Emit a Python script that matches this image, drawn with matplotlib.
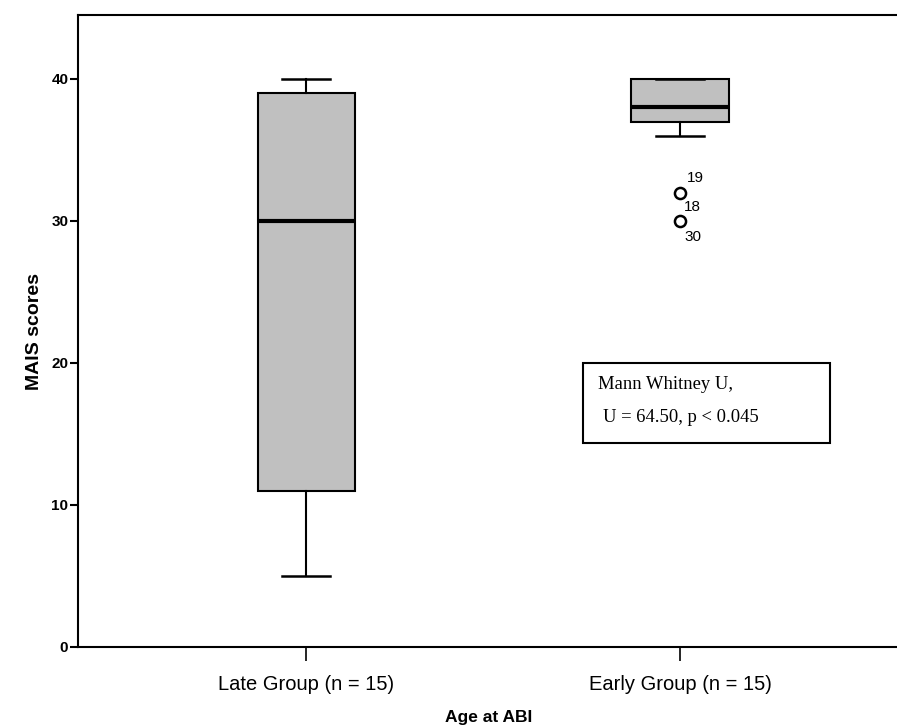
import matplotlib.pyplot as plt
from matplotlib.patches import Rectangle

groups = ['Late Group (n = 15)', 'Early Group (n = 15)']
whislo = [5, 36]
q1 = [11, 37]
med = [30, 38]
q3 = [39, 40]
whishi = [40, 40]
fliers = [[], [32, 30]]
flier_labels = ['19', '18', '30']

plt.rcParams['font.family'] = ['Liberation Sans', 'DejaVu Sans']

fig = plt.figure(figsize=(8.97, 7.27), dpi=100)
ax = fig.add_axes([78 / 897, 80 / 727, 822 / 897, 632 / 727])

stats = []
for i in range(len(groups)):
    stats.append(dict(label=groups[i], whislo=whislo[i], q1=q1[i], med=med[i],
                      q3=q3[i], whishi=whishi[i], fliers=fliers[i]))

ax.bxp(stats, positions=[1, 2], widths=0.26, patch_artist=True,
       boxprops=dict(facecolor='#c0c0c0', edgecolor='black', linewidth=1.5),
       medianprops=dict(color='black', linewidth=3),
       whiskerprops=dict(color='black', linewidth=1.5),
       capprops=dict(color='black', linewidth=1.8),
       capwidths=0.13,
       flierprops=dict(marker='o', markerfacecolor='white', markeredgecolor='black',
                       markersize=8, markeredgewidth=1.8))

# case numbers next to outliers
ax.text(2.019, 33.0, flier_labels[0], fontsize=11, va='center')
ax.text(2.011, 31.0, flier_labels[1], fontsize=11, va='center')
ax.text(2.011, 28.9, flier_labels[2], fontsize=11, va='center')

ax.set_xlim(0.39, 2.588)
ax.set_ylim(0, 44.5)
ax.set_yticks([0, 10, 20, 30, 40])
ax.set_yticklabels(['0', '10', '20', '30', '40'], fontsize=11, fontweight='bold')
ax.set_xticks([1, 2])
ax.set_xticklabels(groups, fontsize=14.5)
ax.tick_params(axis='y', length=6, width=1.5, pad=1)
ax.tick_params(axis='x', length=10, width=1.2, pad=10)
for s in ax.spines.values():
    s.set_linewidth(1.5)

ax.set_ylabel('MAIS scores', fontsize=14, fontweight='bold', labelpad=6)
ax.set_xlabel('Age at ABI', fontsize=12.5, fontweight='bold', labelpad=12)

# statistics box
ax.add_patch(Rectangle((1.741, 14.37), 0.66, 5.63, facecolor='white',
                       edgecolor='black', linewidth=1.5, zorder=3))
ax.text(1.781, 18.45, 'Mann Whitney U,', fontsize=13.4, family='Liberation Serif',
        va='center', zorder=4)
ax.text(1.794, 16.13, 'U = 64.50, p < 0.045', fontsize=13.4, family='Liberation Serif',
        va='center', zorder=4)

fig.savefig('out.png', dpi=100)
